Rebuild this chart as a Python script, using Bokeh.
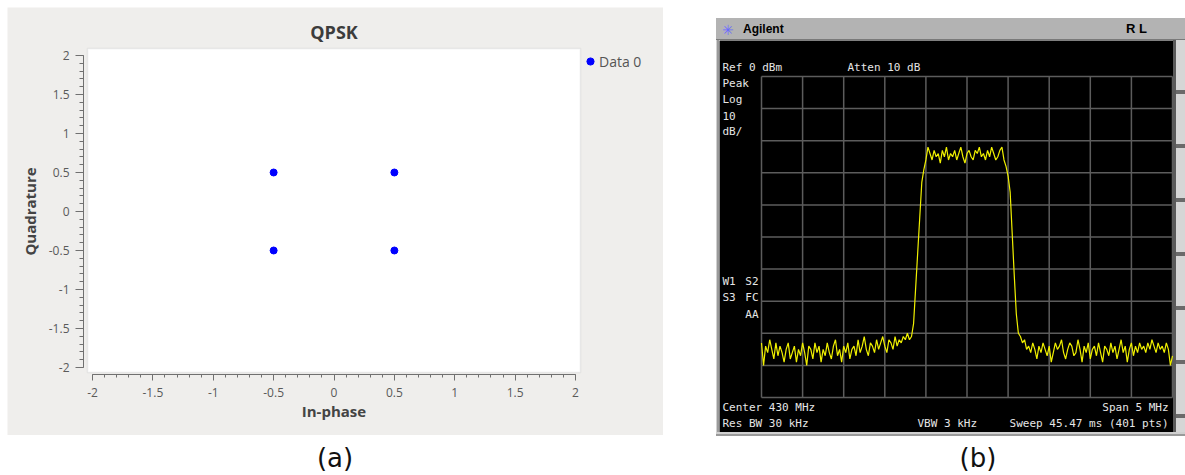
import numpy as np
from bokeh.plotting import figure
from bokeh.models import (Range1d, FixedTicker, Legend, LegendItem, Label, Div, Spacer,
                          BoxAnnotation)
from bokeh.layouts import row, column
from bokeh.embed import file_html
from bokeh.resources import INLINE

# ---------------- Panel (a): QPSK constellation ----------------
i_vals = [-0.5, 0.5, -0.5, 0.5]
q_vals = [0.5, 0.5, -0.5, -0.5]
series_name = "Data 0"
axis_ticks = [-2, -1.5, -1, -0.5, 0, 0.5, 1, 1.5, 2]
axis_tick_labels = ["-2", "-1.5", "-1", "-0.5", "0", "0.5", "1", "1.5", "2"]

# ---------------- Panel (b): spectrum analyser trace ----------------
center_mhz = 430.0
span_mhz = 5.0
ref_dbm = 0
db_per_div = 10
trace_db = [
    # noise floor, left
    -83, -90, -84, -86, -82, -85, -88, -83, -87, -84,
    -86, -89, -85, -83, -88, -86, -84, -89, -85, -87,
    -83, -86, -90, -84, -85, -88, -83, -86, -84, -89,
    -85, -87, -83, -86, -88, -84, -82, -87, -85, -89,
    -84, -86, -83, -88, -85, -84, -87, -82, -86, -84,
    -81, -85, -87, -83, -84, -86, -82, -85, -83, -81,
    -84, -86, -82, -83, -85, -81, -84, -82, -83, -81,
    -82, -80, -82, -81,
    # rising edge
    -77, -66, -55, -44, -33, -29, -26, -22,
    # signal plateau
    -24, -26, -23, -25, -24, -27, -23, -25, -22, -26,
    -24, -25, -23, -26, -24, -22, -25, -27, -24, -23,
    -25, -26, -23, -24, -22, -25, -24, -26, -23, -25,
    -22, -24, -26, -25, -23, -22, -26,
    # falling edge
    -28, -31, -36, -49, -62, -74, -80,
    # noise floor, right
    -81, -83, -82, -85, -84, -86, -83, -85, -88, -84,
    -86, -83, -85, -87, -84, -89, -86, -83, -85, -84,
    -82, -86, -88, -85, -83, -84, -87, -86, -82, -85,
    -89, -84, -86, -83, -88, -85, -84, -87, -83, -86,
    -89, -84, -85, -87, -83, -86, -84, -88, -85, -82,
    -86, -84, -89, -85, -83, -87, -84, -86, -83, -85,
    -84, -86, -83, -85, -82, -84, -86, -83, -85, -84,
    -86, -83, -85, -90, -87,
]
f_start = center_mhz - span_mhz / 2
f_stop = center_mhz + span_mhz / 2
freq = np.linspace(f_start, f_stop, len(trace_db))
grid_x = list(np.linspace(f_start, f_stop, 11))
grid_y = [ref_dbm - k * db_per_div for k in range(11)]

UI_FONT = "Open Sans"
PANEL_BG = "#efeeec"
DOT_C = "#0000ff"

# ---------------- figure (a): whole gray panel is the frame ----------------
# page placement of the white plotting area and its data limits
A_L, A_R, A_T, A_B = 87, 580, 48, 372
AX0, AX1, AY0, AY1 = -2.0414, 2.0414, -2.0641, 2.0897
PAN_L, PAN_R, PAN_T, PAN_B = 7, 663, 7, 435


def ax_x(px):
    return AX0 + (px - A_L) * (AX1 - AX0) / (A_R - A_L)


def ax_y(py):
    return AY1 - (py - A_T) * (AY1 - AY0) / (A_B - A_T)


pa = figure(frame_width=PAN_R - PAN_L, frame_height=PAN_B - PAN_T,
            x_range=Range1d(ax_x(PAN_L), ax_x(PAN_R)), y_range=Range1d(ax_y(PAN_B), ax_y(PAN_T)),
            output_backend="svg", toolbar_location=None,
            min_border_left=0, min_border_right=0, min_border_top=0, min_border_bottom=0,
            background_fill_color=PANEL_BG, border_fill_color=PANEL_BG, outline_line_color=None)
pa.title.visible = False
pa.grid.visible = False
pa.add_layout(BoxAnnotation(left=AX0, right=AX1, bottom=AY0, top=AY1, fill_color="white", fill_alpha=1,
                            line_color="#c4c4c4", line_width=1.5, level="underlay"))
r = pa.scatter(i_vals, q_vals, size=7, color=DOT_C)

pa.add_layout(Label(x=(AX0 + AX1) / 2, y=ax_y(31.5), text="QPSK", text_align="center",
                    text_baseline="middle", text_font=UI_FONT, text_font_size="18px",
                    text_font_style="bold", text_color="#3c3c3c"))

minor = [round(v, 2) for v in np.arange(-2, 2.0001, 0.1)]
for ax in (pa.xaxis[0], pa.yaxis[0]):
    ax.ticker = FixedTicker(ticks=axis_ticks, minor_ticks=minor)
    ax.major_label_overrides = {float(t): l for t, l in zip(axis_ticks, axis_tick_labels)}
    ax.bounds = (-2, 2)
    ax.axis_line_color = "#707070"
    ax.major_tick_line_color = "#707070"
    ax.minor_tick_line_color = "#707070"
    ax.major_tick_in = 0
    ax.minor_tick_in = 0
    ax.major_label_text_font = UI_FONT
    ax.major_label_text_font_size = "12px"
    ax.major_label_text_color = "#5a5a5a"
    ax.axis_label_text_font = UI_FONT
    ax.axis_label_text_font_size = "15px"
    ax.axis_label_text_font_style = "bold"
    ax.axis_label_text_color = "#444444"

pa.xaxis.fixed_location = ax_y(374)
pa.xaxis.axis_label = "In-phase"
pa.xaxis.major_tick_out = 6
pa.xaxis.minor_tick_out = 3
pa.xaxis.major_label_standoff = 7
pa.xaxis.axis_label_standoff = 1

pa.yaxis.fixed_location = ax_x(83)
pa.yaxis.axis_label = "Quadrature"
pa.yaxis.major_tick_out = 8
pa.yaxis.minor_tick_out = 4
pa.yaxis.major_label_standoff = 6
pa.yaxis.axis_label_standoff = 6

# legend: bottom-left corner given in pixels from the panel's bottom-left
pa.add_layout(Legend(items=[LegendItem(label=series_name, renderers=[r])],
                     location=(581 - PAN_L, PAN_B - 73),
                     margin=0, padding=0, glyph_width=18, glyph_height=24, label_height=24,
                     label_standoff=0, label_text_font=UI_FONT, label_text_font_size="14px",
                     label_text_color="#555555", border_line_color=None, background_fill_alpha=0))

# ---------------- figure (b): the whole black screen is the frame ----------------
FR_L, FR_W, FR_T, FR_H = 761, 411, 76, 321      # graticule placement on the page
SCR_L, SCR_R, SCR_T, SCR_B = 719, 1173, 40, 432   # black screen placement on the page


def bx(px):
    return f_start + (px - FR_L) * span_mhz / FR_W


def by(py):
    return grid_y[0] - (py - FR_T) * (grid_y[0] - grid_y[-1]) / FR_H


pb = figure(width=SCR_R - SCR_L, height=SCR_B - SCR_T,
            x_range=Range1d(bx(SCR_L), bx(SCR_R)), y_range=Range1d(by(SCR_B), by(SCR_T)),
            output_backend="svg", toolbar_location=None,
            min_border_left=0, min_border_right=0, min_border_top=0, min_border_bottom=0,
            background_fill_color="black", border_fill_color="black", outline_line_color=None)
pb.xaxis.visible = False
pb.yaxis.visible = False
pb.grid.visible = False

GRID_C = "#5c5c5c"
pb.segment(x0=grid_x, y0=[grid_y[-1]] * len(grid_x), x1=grid_x, y1=[grid_y[0]] * len(grid_x),
           line_color=GRID_C, line_width=1.5)
pb.segment(x0=[f_start] * len(grid_y), y0=grid_y, x1=[f_stop] * len(grid_y), y1=grid_y,
           line_color=GRID_C, line_width=1.5)
pb.line(freq, trace_db, color="#f0f000", line_width=1.2)

screen_texts = [
    ("Ref 0 dBm", 722, 67, "left"),
    ("Atten 10 dB", 847, 67, "left"),
    ("Peak", 722, 83, "left"),
    ("Log", 722, 99, "left"),
    ("10", 722, 115, "left"),
    ("dB/", 722, 131, "left"),
    ("W1", 722, 281, "left"),
    ("S2", 758, 281, "right"),
    ("S3", 722, 297, "left"),
    ("FC", 758, 297, "right"),
    ("AA", 758, 314, "right"),
    ("Center 430 MHz", 722, 407, "left"),
    ("Res BW 30 kHz", 722, 423, "left"),
    ("VBW 3 kHz", 917, 423, "left"),
    ("Span 5 MHz", 1168, 407, "right"),
    ("Sweep 45.47 ms (401 pts)", 1168, 423, "right"),
]
for txt, px, py, al in screen_texts:
    pb.add_layout(Label(x=bx(px), y=by(py), text=txt, text_align=al, text_baseline="middle",
                        text_font="DejaVu Sans Mono", text_font_size="11px", text_color="#e6e6e6"))

# ---------------- page layout ----------------
bar_html = (
    '<div style="position:relative;width:469px;height:22px;background:#b3b3b3;'
    'border-bottom:1px solid #7a7a7a;box-sizing:border-box;font-family:\'Liberation Sans\',Arial,sans-serif;">'
    '<span style="position:absolute;left:6px;top:2px;color:#6a6aff;font-size:14px;font-family:\'DejaVu Sans\';">&#10035;</span>'
    '<span style="position:absolute;left:27px;top:3px;font-weight:bold;font-size:12px;color:#000;">Agilent</span>'
    '<span style="position:absolute;left:410px;top:2px;font-weight:bold;font-size:13px;color:#000;">R L</span>'
    '</div>'
)
top_bar = Div(text=bar_html, width=469, height=22, margin=0)
left_strip = Div(text="", width=3, height=392, margin=0,
                 styles={"background": "linear-gradient(to right, #d0d0d0 0 1px, #9a9a9a 1px)"})
right_strip = Div(text="", width=12, height=392, margin=0,
                  styles={"background": "repeating-linear-gradient(to bottom, #d6d6d6 0 50px, #6a6a6a 50px 54px)",
                          "border-left": "3px solid #5a5a5a", "box-sizing": "border-box"})
bottom_bar = Div(text="", width=469, height=4, margin=0,
                 styles={"background": "linear-gradient(to bottom, #d0d0d0 0 2px, #9a9a9a 2px)"})

cap_a = Div(text='<div style="width:656px;text-align:center;font-family:\'DejaVu Sans\';'
                 'font-size:26px;line-height:30px;padding-top:8px;color:#111;">(a)</div>',
            width=656, height=40, margin=0)
cap_b = Div(text='<div style="width:469px;box-sizing:border-box;padding-left:55px;text-align:center;'
                 'font-family:\'DejaVu Sans\';font-size:26px;line-height:30px;padding-top:7px;color:#111;">(b)</div>',
            width=469, height=39, margin=0)

col_a = column(pa, cap_a, spacing=0)
col_b = column(Spacer(width=469, height=11, margin=0), top_bar,
               row(left_strip, pb, right_strip, spacing=0),
               bottom_bar, cap_b, spacing=0)
page = column(Spacer(width=1185, height=7, margin=0),
              row(Spacer(width=7, height=468, margin=0), col_a,
                  Spacer(width=53, height=468, margin=0), col_b, spacing=0),
              spacing=0)

open("out.html", "w").write(file_html(page, INLINE))
